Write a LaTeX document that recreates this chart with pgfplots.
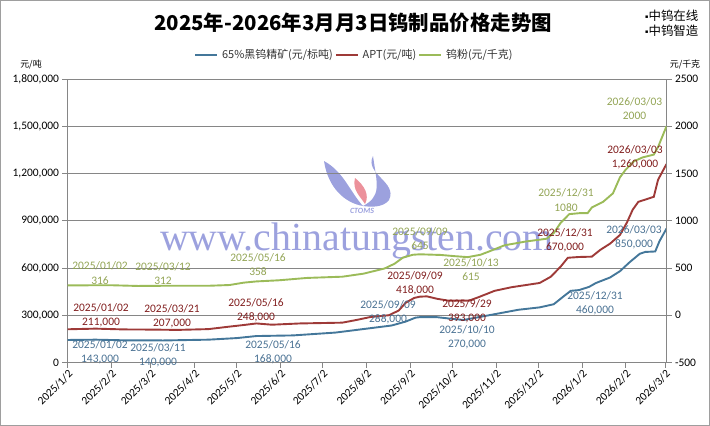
\documentclass[border=0pt]{standalone}
\usepackage{pgfplots}
\pgfplotsset{compat=1.18}
\usepackage{fontspec}
\setmainfont{Carlito}
\newfontfamily\cjk{Noto Sans CJK SC}
\newfontfamily\wmfont{Liberation Serif}
\newfontfamily\symfont{DejaVu Sans}

\definecolor{cblue}{RGB}{68,119,154}
\definecolor{cbluetxt}{RGB}{72,112,146}
\definecolor{cred}{RGB}{158,58,56}
\definecolor{credtxt}{RGB}{128,28,28}
\definecolor{cgreen}{RGB}{155,187,89}
\definecolor{cgreentxt}{RGB}{146,164,84}
\definecolor{cgrid}{RGB}{134,134,134}
\definecolor{wm}{RGB}{156,161,222}
\definecolor{logopink}{RGB}{236,145,155}

% value labels: colour, x, y (image px), date, value
\newcommand{\lab}[5]{\node[text=#1,align=center,inner sep=0pt,
  font=\fontsize{11.5}{14.5}\selectfont] at (#2bp,-#3bp) {#4\\#5};}

\pgfplotsset{
  base/.style={
    scale only axis, width=599bp, height=283.5bp,
    at={(67.5bp,-362.5bp)}, anchor=south west,
    xmin=0, xmax=425,
    /pgf/number format/assume math mode=true,
    tick label style={font=\fontsize{11.5}{13}\selectfont, text=black},
    axis line style={cgrid, line width=0.8pt},
    tick style={cgrid, line width=0.8pt},
    major tick length=5bp, tick align=outside,
  }
}

\begin{document}
\begin{tikzpicture}
% frame
\draw[cgrid!80, line width=1bp] (0.5bp,-0.5bp) rectangle (709.5bp,-425.5bp);

% watermark
\node[text=wm, font=\wmfont\fontsize{40}{40}\selectfont, anchor=base west, inner sep=0pt]
  at (160bp,-250bp) {www.chinatungsten.com};
\fill[wm] (324bp,-161bp) .. controls (328bp,-188bp) and (345bp,-203bp) .. (363bp,-206bp)
  .. controls (350bp,-192bp) and (344bp,-172bp) .. (324bp,-161bp);
\fill[wm] (373bp,-156bp) .. controls (364bp,-174bp) and (398bp,-182bp) .. (389bp,-200bp)
  .. controls (383bp,-208bp) and (370bp,-207bp) .. (363bp,-206bp)
  .. controls (382bp,-196bp) and (377bp,-184bp) .. (373bp,-156bp);
\fill[logopink] (355bp,-178bp) .. controls (364bp,-185bp) and (370bp,-195bp) .. (365bp,-204bp)
  .. controls (360bp,-196bp) and (352bp,-190bp) .. (355bp,-178bp);
\node[text=wm, font=\bfseries\itshape\fontsize{8}{8}\selectfont, inner sep=0pt] at (362bp,-211bp) {CTOMS};

\begin{axis}[base,
  ymin=0, ymax=1800000,
  ytick={0,300000,...,1800000},
  scaled y ticks=false,
  yticklabel style={/pgf/number format/.cd, fixed, 1000 sep={,}},
  ymajorgrids, grid style={cgrid, line width=0.8pt},
  tick pos=left,
  xtick={0,31,59,90,120,151,181,212,243,273,304,334,365,396,424},
  xticklabels={2025/1/2,2025/2/2,2025/3/2,2025/4/2,2025/5/2,2025/6/2,2025/7/2,2025/8/2,
    2025/9/2,2025/10/2,2025/11/2,2025/12/2,2026/1/2,2026/2/2,2026/3/2},
  xticklabel style={rotate=45, anchor=north east, inner sep=1bp},
  legend style={at={(0.479,1.085)}, anchor=center, draw=none, fill=none,
    legend columns=3, font=\cjk\fontsize{11}{13}\selectfont, text=black!80,
    /tikz/every odd column/.append style={column sep=2bp}},
  legend image code/.code={\draw[#1] (0bp,0bp) -- (22bp,0bp);},
]
% 65% wolframite concentrate, yuan per standard ton
\addplot[cblue, line width=1.9bp] coordinates {
  (0,143000) (20,145000) (40,141000) (68,140000) (100,145000) (120,155000)
  (134,168000) (160,172000) (190,190000) (215,218000) (230,235000) (240,260000)
  (247,285000) (250,288000) (262,288000) (272,278000) (281,270000) (290,285000)
  (305,310000) (320,335000) (335,350000) (345,370000) (352,420000) (357,455000)
  (363,460000) (370,480000) (375,505000) (385,540000) (392,580000) (399,638000)
  (406,690000) (410,702000) (417,705000) (420,770000) (425,850000)
};
\addlegendentry{65\%黑钨精矿(元/标吨)\hspace{18bp}}
% APT, yuan per ton
\addplot[cred, line width=1.9bp] coordinates {
  (0,211000) (20,215000) (40,210000) (60,209000) (78,207000) (100,212000)
  (115,228000) (125,238000) (134,248000) (145,240000) (165,248000) (195,253000)
  (205,270000) (215,289000) (228,300000) (235,330000) (240,380000) (246,410000)
  (250,418000) (255,420000) (262,405000) (270,393000) (285,393000) (292,416000)
  (303,455000) (315,478000) (335,505000) (343,545000) (350,610000) (355,665000)
  (363,670000) (372,672000) (378,715000) (385,755000) (392,810000) (397,890000)
  (401,970000) (405,1020000) (416,1052000) (419,1160000) (425,1260000)
};
\addlegendentry{APT(元/吨)\hspace{18bp}}
\addlegendimage{cgreen, line width=1.9bp}
\addlegendentry{钨粉(元/千克)}
\end{axis}

\begin{axis}[base,
  ymin=-500, ymax=2500,
  ytick={-500,0,...,2500},
  yticklabel style={/pgf/number format/.cd, fixed, 1000 sep={}},
  axis y line*=right, axis x line=none,
]
% tungsten powder, yuan per kg
\addplot[cgreen, line width=1.9bp] coordinates {
  (0,316) (30,318) (50,310) (69,312) (100,312) (115,320) (125,345) (134,358)
  (150,370) (170,395) (195,408) (210,440) (225,495) (232,545) (238,610) (245,640)
  (250,645) (265,638) (275,625) (284,615) (293,640) (300,680) (310,740) (325,780)
  (340,810) (345,870) (350,980) (356,1070) (363,1080) (369,1080) (372,1140)
  (380,1200) (387,1290) (392,1460) (396,1540) (402,1630) (408,1670) (416,1700)
  (419,1780) (425,2000)
};
\end{axis}

% title, logos, units
\node[font=\cjk\bfseries\fontsize{20.5}{24}\selectfont, inner sep=0pt] at (353bp,-22.5bp)
  {2025年-2026年3月月3日钨制品价格走势图};
\node[anchor=west, inner sep=0pt, font=\cjk\fontsize{12.5}{14}\selectfont] at (645bp,-16bp)
  {\raisebox{2.5bp}{\symfont\fontsize{5}{5}\selectfont ▪}中钨在线};
\node[anchor=west, inner sep=0pt, font=\cjk\fontsize{12.5}{14}\selectfont] at (645bp,-31bp)
  {\raisebox{2.5bp}{\symfont\fontsize{5}{5}\selectfont ▪}中钨智造};
\node[font=\cjk\fontsize{9}{10}\selectfont, inner sep=0pt] at (31bp,-65bp) {元/吨};
\node[font=\cjk\fontsize{9}{10}\selectfont, inner sep=0pt] at (685bp,-65bp) {元/千克};

% green labels
\lab{cgreentxt}{100}{273}{2025/01/02}{316}
\lab{cgreentxt}{163}{273.5}{2025/03/12}{312}
\lab{cgreentxt}{258}{264.5}{2025/05/16}{358}
\lab{cgreentxt}{420}{238.5}{2025/09/09}{645}
\lab{cgreentxt}{471}{269.5}{2025/10/13}{615}
\lab{cgreentxt}{566}{200}{2025/12/31}{1080}
\lab{cgreentxt}{634.5}{108.5}{2026/03/03}{2000}
% red labels
\lab{credtxt}{101}{315.5}{2025/01/02}{211,000}
\lab{credtxt}{172}{316}{2025/03/21}{207,000}
\lab{credtxt}{256}{310}{2025/05/16}{248,000}
\lab{credtxt}{415}{283}{2025/09/09}{418,000}
\lab{credtxt}{467}{311}{2025/9/29}{393,000}
\lab{credtxt}{565}{240.5}{2025/12/31}{670,000}
\lab{credtxt}{635}{157}{2026/03/03}{1,260,000}
% blue labels
\lab{cbluetxt}{100}{352.5}{2025/01/02}{143,000}
\lab{cbluetxt}{158}{355.5}{2025/03/11}{140,000}
\lab{cbluetxt}{273}{352}{2025/05/16}{168,000}
\lab{cbluetxt}{388}{312.5}{2025/09/09}{288,000}
\lab{cbluetxt}{467}{337}{2025/10/10}{270,000}
\lab{cbluetxt}{595}{303.5}{2025/12/31}{460,000}
\lab{cbluetxt}{634}{237}{2026/03/03}{850,000}

\pgfresetboundingbox
\path[use as bounding box] (0bp,0bp) rectangle (710bp,-426bp);
\end{tikzpicture}
\end{document}
